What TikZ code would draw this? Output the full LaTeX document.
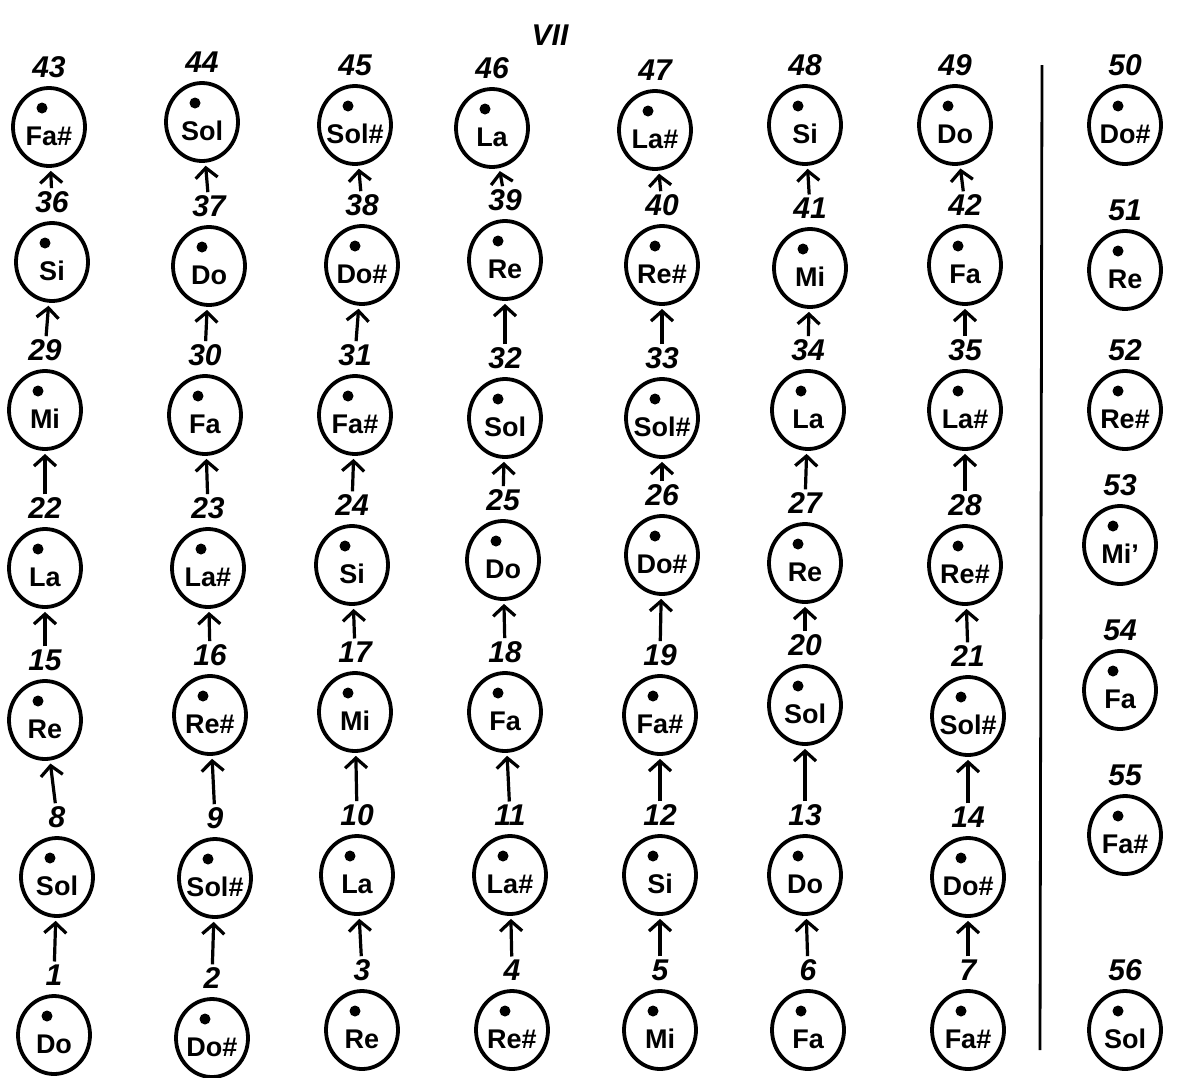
\documentclass[tikz,border=0pt]{standalone}
\usepackage{fontspec}
\setmainfont{Liberation Sans}
\usetikzlibrary{shapes.geometric,arrows.meta,calc}
\begin{document}
\begin{tikzpicture}[x=1pt,y=-1pt,
  note/.style={draw,ellipse,line width=3.8pt,minimum width=72pt,minimum height=78pt,inner sep=0pt},
  notename/.style={font=\fontsize{27}{29}\selectfont\bfseries,inner sep=0pt},
  num/.style={font=\fontsize{30}{32}\selectfont\bfseries\itshape,inner sep=1pt},
  arr/.style={line width=3.2pt,-{Straight Barb[length=10pt,width=22pt,line width=3.2pt]},shorten >=3pt,shorten <=2pt},
  ]
\useasboundingbox (0,0) rectangle (1177,1077);
\fill[white] (0,0) rectangle (1177,1077);
\foreach \n/\x/\y/\nm in {
 1/54/1035/Do, 2/212/1038/Do\#, 3/362/1030/Re, 4/512/1030/Re\#, 5/660/1030/Mi, 6/808/1030/Fa, 7/968/1030/Fa\#,
 8/57/877/Sol, 9/215/878/Sol\#, 10/357/875/La, 11/510/875/La\#, 12/660/875/Si, 13/805/875/Do, 14/968/877/Do\#,
 15/45/720/Re, 16/210/715/Re\#, 17/355/712/Mi, 18/505/712/Fa, 19/660/715/Fa\#, 20/805/705/Sol, 21/968/716/Sol\#,
 22/45/568/La, 23/208/568/La\#, 24/352/565/Si, 25/503/560/Do, 26/662/555/Do\#, 27/805/563/Re, 28/965/565/Re\#,
 29/45/410/Mi, 30/205/415/Fa, 31/355/415/Fa\#, 32/505/418/Sol, 33/662/418/Sol\#, 34/808/410/La, 35/965/410/La\#,
 36/52/262/Si, 37/209/266/Do, 38/362/265/Do\#, 39/505/260/Re, 40/662/265/Re\#, 41/810/268/Mi, 42/965/265/Fa,
 43/49/127/Fa\#, 44/202/122/Sol, 45/355/125/Sol\#, 46/492/128/La, 47/655/130/La\#, 48/805/125/Si, 49/955/125/Do,
 50/1125/125/Do\#, 51/1125/270/Re, 52/1125/410/Re\#, 53/1120/545/Mi', 54/1120/690/Fa, 55/1125/835/Fa\#, 56/1125/1030/Sol}
{
  \node[note] (c\n) at (\x,\y) {};
  \fill ($(c\n)+(-7,-19)$) circle (5.5pt);
  \node[notename] (t\n) at ($(c\n)+(0,9)$) {\nm};
  \node[num] (n\n) at ($(c\n)+(0,-60)$) {\n};
}
\foreach \k in {1,...,42} {
  \pgfmathtruncatemacro\m{\k+7}
  \draw[arr] (n\k) -- (c\m);
}
\coordinate (vt) at (1042,65);
\coordinate (vb) at (1040,1050);
\draw[line width=2.8pt] (vt) -- (vb);
\node[font=\fontsize{30}{32}\selectfont\bfseries\itshape] (title) at (550,35) {VII};
\end{tikzpicture}
\end{document}
